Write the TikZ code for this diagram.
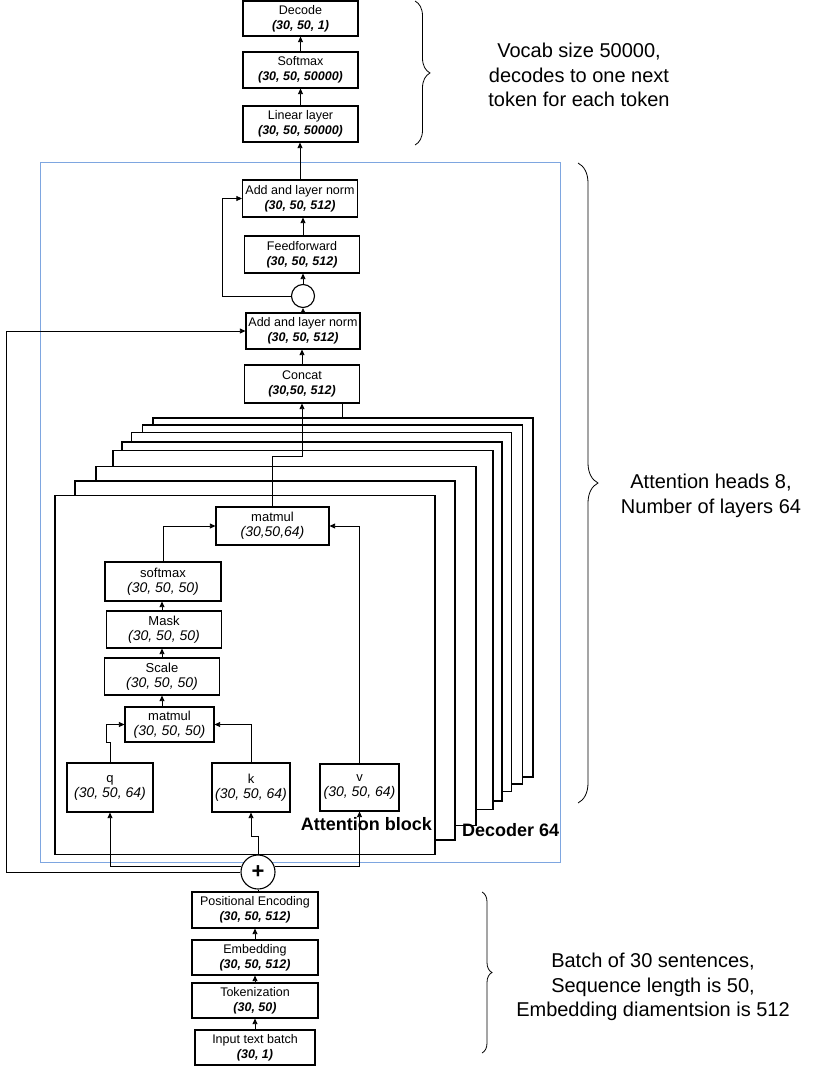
\documentclass[tikz,border=0pt]{standalone}
\usepackage{fontspec}
\setmainfont{Liberation Sans}
\usetikzlibrary{arrows.meta, decorations.pathreplacing, calc}
\definecolor{frameblue}{RGB}{126,166,224}
% second line of a box: tensor shape
\newcommand{\shp}[1]{{\fontsize{12.5}{15}\selectfont\bfseries\itshape #1}}
\newcommand{\shpi}[1]{{\fontsize{14}{16}\selectfont\itshape #1}}
\begin{document}
\begin{tikzpicture}[x=1pt, y=-1pt,
  dims/.style 2 args={minimum width=#1pt, minimum height=#2pt},
  box/.style={draw, line width=1.2pt, fill=white, align=center, inner sep=0pt,
              font=\fontsize{12.5}{15}\selectfont},
  ibox/.style={box, font=\fontsize{13}{15}\selectfont},
  frame/.style={draw, line width=1.1pt, fill=white, minimum width=380pt,
                minimum height=359pt, inner sep=0pt},
  conn/.style={line width=0.8pt},
  arr/.style={conn, -{Triangle[length=5.5pt,width=5pt]}},
  note/.style={align=center, font=\fontsize{20}{24.5}\selectfont},
  tag/.style={font=\bfseries\fontsize{18}{18}\selectfont, inner sep=0pt},
  brc/.style={decorate, decoration={brace, amplitude=#1}, line width=0.8pt},
]
\useasboundingbox (0,0) rectangle (820,1067);

% decoder region
\node[draw=frameblue, line width=1pt, dims={520}{699}, inner sep=0pt] (stack) at (300,512.5) {};

% output head
\node[box, dims={115}{35}] (dec) at (300.5,18.5) {Decode\\\shp{(30, 50, 1)}};
\node[box, dims={115}{36}] (smx) at (300.5,70) {Softmax\\\shp{(30, 50, 50000)}};
\node[box, dims={115}{36}] (lin) at (300.5,124) {Linear layer\\\shp{(30, 50, 50000)}};

% decoder layer
\node[box, dims={115}{37}] (aln1) at (300,198.5) {Add and layer norm\\\shp{(30, 50, 512)}};
\node[box, dims={115}{37}] (ff) at (302,254.5) {Feedforward\\\shp{(30, 50, 512)}};
\node[circle, draw, line width=1.1pt, fill=white, minimum size=23pt, inner sep=0pt] (res) at (303,296) {};
\node[box, dims={114}{36}] (aln2) at (303,331) {Add and layer norm\\\shp{(30, 50, 512)}};
\node[box, dims={115}{38}] (cat) at (302,384) {Concat\\\shp{(30,50, 512)}};

% stacked attention heads, back to front
\node[frame] (h1) at (343,597.5) {};
\node[frame] (h2) at (332.5,604.5) {};
\node[frame] (h3) at (321.5,612) {};
\node[frame] (h4) at (312,621.5) {};
\node[frame] (h5) at (303,630) {};
\node[frame] (h6) at (286,646) {};
\node[frame] (h7) at (265,660.5) {};
\node[frame] (h8) at (245,675) {};

% attention block
\node[ibox, dims={113}{38}] (mm1) at (272.5,526) {matmul\\\shpi{(30,50,64)}};
\node[ibox, dims={116}{39}] (soft) at (163,581.5) {softmax\\\shpi{(30, 50, 50)}};
\node[ibox, dims={115}{37}] (msk) at (164,629.5) {Mask\\\shpi{(30, 50, 50)}};
\node[ibox, dims={115}{37}] (scl) at (162,676.5) {Scale\\\shpi{(30, 50, 50)}};
\node[ibox, dims={89}{35}] (mm2) at (169.5,724.5) {matmul\\\shpi{(30, 50, 50)}};
\node[ibox, dims={86}{49}] (q) at (110,787.5) {q\\\shpi{(30, 50, 64)}};
\node[ibox, dims={78}{49}] (k) at (251,787.5) {k\\\shpi{(30, 50, 64)}};
\node[ibox, dims={79}{47}] (v) at (359.5,787.5) {v\\\shpi{(30, 50, 64)}};

\node[tag, anchor=east] (ablk) at (432,824) {Attention block};
\node[tag, anchor=west] (dlbl) at (462,830) {Decoder 64};

% input pipeline
\node[circle, draw, line width=1.1pt, fill=white, minimum size=34pt, inner sep=0pt,
      font=\bfseries\fontsize{22}{22}\selectfont] (plus) at (258,872) {+};
\node[box, dims={126}{36}] (pe) at (255,910) {Positional Encoding\\\shp{(30, 50, 512)}};
\node[box, dims={126}{35}] (emb) at (255,957.5) {Embedding\\\shp{(30, 50, 512)}};
\node[box, dims={126}{35}] (tok) at (255,1000.5) {Tokenization\\\shp{(30, 50)}};
\node[box, dims={120}{35}] (inp) at (255,1047.5) {Input text batch\\\shp{(30, 1)}};

% notes
\node[note] (vocab) at (579,75) {Vocab size 50000,\\decodes to one next\\token for each token};
\node[note] (heads) at (711,496) {Attention heads 8,\\Number of layers 64};
\node[note] (batch) at (653,987) {Batch of 30 sentences,\\Sequence length is 50,\\Embedding diamentsion is 512};

% braces
\coordinate (bt1) at (415,1);
\coordinate (bt2) at (415,145);
\draw[brc=15pt] (bt1) -- (bt2);
\coordinate (bm1) at (578,163);
\coordinate (bm2) at (578,803);
\draw[brc=20pt] (bm1) -- (bm2);
\coordinate (bb1) at (482,892);
\coordinate (bb2) at (482,1053);
\draw[brc=10pt] (bb1) -- (bb2);

% output head connectors
\draw[arr] (smx.north) -- (dec.south);
\draw[arr] (lin.north) -- (smx.south);
\draw[arr] (aln1.north) -- (aln1.north |- lin.south);

% decoder layer connectors
\draw[arr] (res.north |- ff.north) -- (res.north |- aln1.south);
\draw[arr] (res.north) -- (res.north |- ff.south);
\draw[arr] (res.west) -- ++(-69,0) |- (aln1.west);
\draw[arr] (aln2.north) -- (res.south);
\draw[arr] (cat.north) -- (cat.north |- aln2.south);
\draw[arr] (mm1.north) -- ++(0,-50) -| (cat.south);
\draw[conn] ([xshift=40pt]cat.south) -- ([xshift=40pt]cat.south |- h1.north);

% attention connectors
\draw[arr] (soft.north) |- (mm1.west);
\draw[arr] (v.north) |- (mm1.east);
\draw[arr] (mm2.north -| scl.north) -- (scl.south);
\draw[arr] (scl.north) -- (scl.north |- msk.south);
\draw[arr] (msk.north -| scl.north) -- (scl.north |- soft.south);
\draw[arr] (q.north) -- ++(0,-20) -- ++(-4,0) |- (mm2.west);
\draw[arr] (k.north) |- (mm2.east);

% input connectors
\draw[conn] (pe.north -| plus.south) -- (plus.south);
\draw[arr] (plus.163) -| (q.south);
\draw[arr] (plus.17) -| (v.south);
\draw[arr] (plus.north) -- ++(0,-18) -| (k.south);
\draw[arr] (plus.west) -- ++(-234,0) |- (aln2.west);
\draw[arr] (emb.north) -- (pe.south);
\draw[arr] (tok.north) -- (emb.south);
\draw[arr] (inp.north) -- (tok.south);
\end{tikzpicture}
\end{document}
